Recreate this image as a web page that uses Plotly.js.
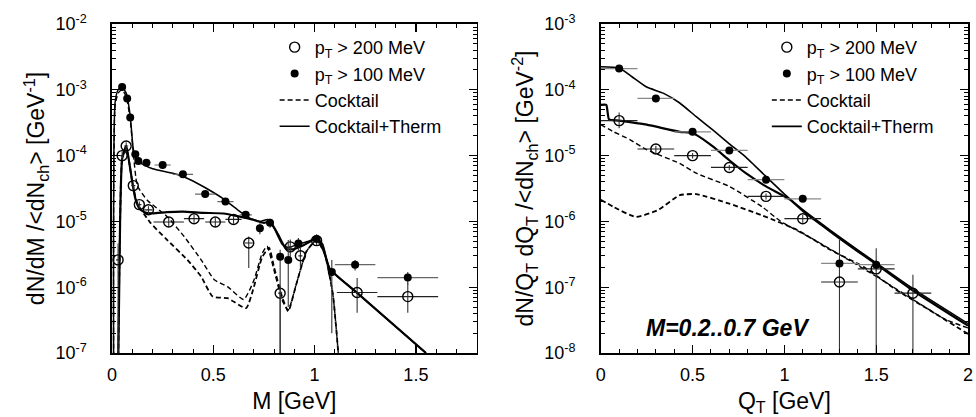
<!DOCTYPE html>
<html>
<head>
<meta charset="utf-8">
<script src="https://cdn.plot.ly/plotly-3.0.1.min.js"></script>
<style>html,body{margin:0;padding:0;background:#fff;}#chart{width:976px;height:417px;}</style>
</head>
<body>
<div id="chart"></div>
<script>
// ---------------- Left panel: dN/dM vs M ----------------
const massOpenX = [0.03, 0.05, 0.07, 0.105, 0.135, 0.18, 0.28, 0.405, 0.51, 0.6, 0.675, 0.83, 0.88, 0.93, 1.01, 1.21, 1.46];
const massOpenY = [2.6e-6, 1.0e-4, 1.4e-4, 3.5e-5, 1.8e-5, 1.5e-5, 9.8e-6, 1.1e-5, 9.8e-6, 1.07e-5, 4.7e-6, 8.1e-7, 4.1e-6, 3.0e-6, 5.1e-6, 8.3e-7, 7.2e-7];
const massOpenXErr = [0.01, 0.01, 0.01, 0.01, 0.01, 0.02, 0.075, 0.05, 0.05, 0.04, 0.02, 0.01, 0.01, 0.01, 0.01, 0.1, 0.15];
const massOpenYErrPlus = [2.0e-6, 1.5e-5, 2e-5, 4e-6, 2e-6, 2e-6, 1.5e-6, 1.5e-6, 1.5e-6, 1.5e-6, 1.2e-6, 2.5e-7, 1.2e-6, 1.0e-6, 8e-7, 5.5e-7, 4.3e-7];
const massOpenYErrMinus = [2.55e-6, 1.5e-5, 2e-5, 4e-6, 2e-6, 2e-6, 1.5e-6, 1.5e-6, 1.5e-6, 1.5e-6, 2.75e-6, 8.0e-7, 1.2e-6, 1.0e-6, 8e-7, 4.2e-7, 3.1e-7];

const massFullX = [0.05, 0.075, 0.09, 0.115, 0.13, 0.17, 0.25, 0.35, 0.46, 0.56, 0.66, 0.73, 0.78, 0.83, 0.87, 0.92, 1.01, 1.085, 1.2, 1.46];
const massFullY = [1.1e-3, 7.4e-4, 3.8e-4, 1.05e-4, 8.3e-5, 7.8e-5, 7.2e-5, 5.2e-5, 2.6e-5, 2.0e-5, 1.26e-5, 7.9e-6, 9.5e-6, 2.9e-6, 2.6e-6, 4.6e-6, 5.4e-6, 1.7e-6, 2.2e-6, 1.4e-6];
const massFullXErr = [0.01, 0.01, 0.01, 0.01, 0.01, 0.02, 0.04, 0.05, 0.05, 0.04, 0.03, 0.01, 0.01, 0.01, 0.01, 0.01, 0.01, 0.01, 0.1, 0.15];
const massFullYErrPlus = [5e-5, 4e-5, 2e-5, 5e-6, 4e-6, 4e-6, 3e-6, 2.5e-6, 1.5e-6, 1.2e-6, 1e-6, 1.5e-6, 1.5e-6, 8e-7, 2.6e-6, 1e-6, 1e-6, 9e-7, 4e-7, 3e-7];
const massFullYErrMinus = [5e-5, 4e-5, 2e-5, 5e-6, 4e-6, 4e-6, 3e-6, 2.5e-6, 1.5e-6, 1.2e-6, 1e-6, 1.5e-6, 1.5e-6, 2.89e-6, 2.1e-6, 1e-6, 1e-6, 1.5e-6, 4e-7, 3e-7];

// model curves (pT > 100 MeV = thin, pT > 200 MeV = thick)
const massThermLoX = [0.008, 0.015, 0.03, 0.05, 0.07, 0.09, 0.105, 0.12, 0.15, 0.2, 0.3, 0.35, 0.42, 0.48, 0.55, 0.62, 0.68, 0.73, 0.77, 0.8, 0.84, 0.87, 0.92, 0.97, 1.01, 1.04, 1.075, 1.2, 1.55];
const massThermLoY = [5e-8, 6.3e-4, 1.0e-3, 1.1e-3, 8.9e-4, 4.0e-4, 1.26e-4, 8.5e-5, 7.4e-5, 6.3e-5, 5.4e-5, 4.8e-5, 3.8e-5, 3.0e-5, 2.2e-5, 1.5e-5, 1.12e-5, 1.0e-5, 1.07e-5, 7.9e-6, 4.5e-6, 4.0e-6, 4.5e-6, 5.0e-6, 5.6e-6, 4.5e-6, 1.9e-6, 8.7e-7, 1.0e-7];
const massThermHiX = [0.03, 0.04, 0.05, 0.07, 0.085, 0.1, 0.115, 0.135, 0.16, 0.2, 0.27, 0.35, 0.45, 0.55, 0.62, 0.7, 0.75, 0.78, 0.82, 0.86, 0.9, 0.95, 1.01, 1.04, 1.075, 1.2, 1.55];
const massThermHiY = [5e-8, 1.0e-5, 8.9e-5, 1.41e-4, 7.9e-5, 4.0e-5, 2.24e-5, 1.58e-5, 1.38e-5, 1.32e-5, 1.38e-5, 1.41e-5, 1.35e-5, 1.32e-5, 1.2e-5, 1.05e-5, 9.5e-6, 1.0e-5, 6.3e-6, 3.8e-6, 3.8e-6, 4.4e-6, 5.5e-6, 4.0e-6, 1.9e-6, 8.7e-7, 1.0e-7];
const massCocktailLoX = [0.008, 0.015, 0.03, 0.05, 0.07, 0.09, 0.105, 0.125, 0.174, 0.27, 0.356, 0.44, 0.505, 0.57, 0.65, 0.7, 0.74, 0.765, 0.8, 0.84, 0.87, 0.91, 0.96, 1.01, 1.05, 1.09, 1.125];
const massCocktailLoY = [5e-8, 5.6e-4, 8.9e-4, 1.0e-3, 7.9e-4, 3.5e-4, 1.12e-4, 3.5e-5, 2.1e-5, 1.2e-5, 5.9e-6, 2.6e-6, 1.3e-6, 1.02e-6, 6.5e-7, 1.26e-6, 3.2e-6, 4.2e-6, 1.8e-6, 6.3e-7, 4.5e-7, 1.12e-6, 3.5e-6, 5.2e-6, 3.2e-6, 7.9e-7, 5e-8];
const massCocktailHiX = [0.03, 0.04, 0.05, 0.07, 0.085, 0.1, 0.124, 0.19, 0.273, 0.372, 0.44, 0.497, 0.571, 0.662, 0.7, 0.74, 0.775, 0.8, 0.84, 0.87, 0.91, 0.96, 1.01, 1.05, 1.09, 1.125];
const massCocktailHiY = [5e-8, 1.0e-5, 8.9e-5, 1.35e-4, 7.9e-5, 4.0e-5, 1.9e-5, 9.5e-6, 5.2e-6, 2.6e-6, 1.45e-6, 7.2e-7, 6.8e-7, 4.8e-7, 1.0e-6, 2.8e-6, 4.0e-6, 2.0e-6, 7.1e-7, 4.3e-7, 1.12e-6, 3.5e-6, 5.2e-6, 3.2e-6, 7.9e-7, 5e-8];

// ---------------- Right panel: dN/QT dQT vs QT ----------------
const qtOpenX = [0.1, 0.3, 0.5, 0.7, 0.9, 1.1, 1.3, 1.5, 1.7];
const qtOpenY = [3.4e-5, 1.26e-5, 1.0e-5, 6.6e-6, 2.4e-6, 1.1e-6, 1.2e-7, 1.9e-7, 8.1e-8];
const qtOpenXErr = [0.1, 0.1, 0.1, 0.1, 0.1, 0.1, 0.1, 0.1, 0.1];
const qtOpenYErrPlus = [1.1e-5, 1.5e-6, 1e-6, 6e-7, 2.5e-7, 1.5e-7, 4e-7, 2e-7, 7.4e-8];
const qtOpenYErrMinus = [8e-6, 2e-6, 1e-6, 6e-7, 2.5e-7, 1.5e-7, 1.19e-7, 1.89e-7, 8.05e-8];

const qtFullX = [0.1, 0.3, 0.5, 0.7, 0.9, 1.1, 1.3, 1.5];
const qtFullY = [2.1e-4, 7.4e-5, 2.3e-5, 1.2e-5, 4.3e-6, 2.2e-6, 2.3e-7, 2.2e-7];
const qtFullXErr = [0.1, 0.1, 0.1, 0.1, 0.1, 0.1, 0.1, 0.1];
const qtFullYErr = [1.5e-5, 6e-6, 2e-6, 1e-6, 4e-7, 2e-7, 4e-8, 4e-8];

const qtThermLoX = [0, 0.1, 0.17, 0.25, 0.34, 0.43, 0.52, 0.61, 0.7, 0.79, 0.9, 1.0, 1.1, 1.2, 1.3, 1.5, 1.7, 2.0];
const qtThermLoY = [2.24e-4, 2.14e-4, 1.58e-4, 1.1e-4, 8.9e-5, 6.3e-5, 3.9e-5, 2.45e-5, 1.51e-5, 9.5e-6, 4.8e-6, 2.6e-6, 1.51e-6, 9.3e-7, 5.8e-7, 2.34e-7, 9.5e-8, 2.8e-8];
const qtThermHiX = [0, 0.03, 0.045, 0.1, 0.25, 0.43, 0.5, 0.61, 0.7, 0.79, 0.9, 1.03, 1.1, 1.2, 1.3, 1.5, 1.7, 2.0];
const qtThermHiY = [5.9e-5, 5.9e-5, 3.55e-5, 3.4e-5, 2.95e-5, 2.3e-5, 2.2e-5, 1.38e-5, 8.5e-6, 5.4e-6, 3.4e-6, 2.14e-6, 1.45e-6, 8.9e-7, 5.5e-7, 2.24e-7, 8.9e-8, 2.6e-8];
const qtCocktailLoX = [0, 0.07, 0.16, 0.25, 0.43, 0.52, 0.70, 0.88, 0.98, 1.16, 1.34, 1.52, 1.70, 1.88, 2.0];
const qtCocktailLoY = [2.95e-5, 2.3e-5, 1.74e-5, 1.23e-5, 7.6e-6, 5.4e-6, 3.4e-6, 1.66e-6, 1.0e-6, 5.3e-7, 2.7e-7, 1.35e-7, 6.5e-8, 3.2e-8, 2.4e-8];
const qtCocktailHiX = [0, 0.07, 0.19, 0.31, 0.43, 0.52, 0.7, 0.88, 1.07, 1.25, 1.43, 1.61, 1.79, 2.0];
const qtCocktailHiY = [2.14e-6, 1.66e-6, 1.17e-6, 1.48e-6, 2.5e-6, 2.6e-6, 1.86e-6, 1.23e-6, 7.4e-7, 3.7e-7, 2.04e-7, 9.1e-8, 4.5e-8, 1.95e-8];

// ---------------- tick labels ----------------
const massYTicks = [1e-7, 1e-6, 1e-5, 1e-4, 1e-3, 1e-2];
const massYTickText = ['10<sup>-7</sup>', '10<sup>-6</sup>', '10<sup>-5</sup>', '10<sup>-4</sup>', '10<sup>-3</sup>', '10<sup>-2</sup>'];
const qtYTicks = [1e-8, 1e-7, 1e-6, 1e-5, 1e-4, 1e-3];
const qtYTickText = ['10<sup>-8</sup>', '10<sup>-7</sup>', '10<sup>-6</sup>', '10<sup>-5</sup>', '10<sup>-4</sup>', '10<sup>-3</sup>'];
const seriesNames = ['p<sub>T</sub> &gt; 200 MeV', 'p<sub>T</sub> &gt; 100 MeV', 'Cocktail', 'Cocktail+Therm'];

function minorLogTicks(lo, hi) {
  const v = [];
  for (let e = lo; e < hi; e++) for (let m = 2; m <= 9; m++) v.push(m * Math.pow(10, e));
  return v;
}

const FONT = 'Liberation Sans, Arial, Helvetica, sans-serif';
const dashStyle = '5px,3px';

function lineTrace(x, y, xa, ya, width, dash, name, show, leg, rank) {
  return {type: 'scatter', mode: 'lines', x: x, y: y, xaxis: xa, yaxis: ya,
    line: {color: 'black', width: width, dash: dash, shape: 'spline', smoothing: 0.5},
    name: name, showlegend: show, legend: leg, legendrank: rank, hoverinfo: 'skip'};
}
function pointTrace(x, y, xe, ep, em, xa, ya, open, name, show, leg, rank, xeColor) {
  return {type: 'scatter', mode: 'markers', x: x, y: y, xaxis: xa, yaxis: ya,
    marker: open ? {symbol: 'circle-open', size: 10, color: 'black', line: {width: 1.4, color: 'black'}}
                 : {symbol: 'circle', size: 8, color: 'black'},
    error_x: {type: 'data', array: xe, symmetric: true, thickness: 1.2, width: 0, color: xeColor},
    error_y: {type: 'data', array: ep, arrayminus: em, symmetric: false, thickness: 1.1, width: 0, color: '#333'},
    name: name, showlegend: show, legend: leg, legendrank: rank};
}

const traces = [
  lineTrace(massCocktailLoX, massCocktailLoY, 'x', 'y', 1.4, dashStyle, seriesNames[2], true, 'legend', 3),
  lineTrace(massCocktailHiX, massCocktailHiY, 'x', 'y', 1.8, dashStyle, seriesNames[2], false, 'legend', 3),
  lineTrace(massThermLoX, massThermLoY, 'x', 'y', 1.5, 'solid', seriesNames[3], true, 'legend', 4),
  lineTrace(massThermHiX, massThermHiY, 'x', 'y', 2.2, 'solid', seriesNames[3], false, 'legend', 4),
  pointTrace(massOpenX, massOpenY, massOpenXErr, massOpenYErrPlus, massOpenYErrMinus, 'x', 'y', true, seriesNames[0], true, 'legend', 1, '#222'),
  pointTrace(massFullX, massFullY, massFullXErr, massFullYErrPlus, massFullYErrMinus, 'x', 'y', false, seriesNames[1], true, 'legend', 2, '#666'),

  lineTrace(qtCocktailLoX, qtCocktailLoY, 'x2', 'y2', 1.4, dashStyle, seriesNames[2], true, 'legend2', 3),
  lineTrace(qtCocktailHiX, qtCocktailHiY, 'x2', 'y2', 1.8, dashStyle, seriesNames[2], false, 'legend2', 3),
  lineTrace(qtThermLoX, qtThermLoY, 'x2', 'y2', 1.6, 'solid', seriesNames[3], true, 'legend2', 4),
  lineTrace(qtThermHiX, qtThermHiY, 'x2', 'y2', 2.2, 'solid', seriesNames[3], false, 'legend2', 4),
  pointTrace(qtOpenX, qtOpenY, qtOpenXErr, qtOpenYErrPlus, qtOpenYErrMinus, 'x2', 'y2', true, seriesNames[0], true, 'legend2', 1, '#222'),
  pointTrace(qtFullX, qtFullY, qtFullXErr, qtFullYErr, qtFullYErr, 'x2', 'y2', false, seriesNames[1], true, 'legend2', 2, '#888')
];

const axisBase = {
  showline: true, linecolor: 'black', linewidth: 1.6, mirror: 'ticks',
  ticks: 'inside', ticklen: 8, tickwidth: 1.3, tickcolor: 'black',
  showgrid: false, zeroline: false, fixedrange: true,
  tickfont: {family: FONT, size: 18, color: 'black'}
};
const minorLin = {ticks: 'inside', ticklen: 4, tickwidth: 1, tickcolor: 'black', dtick: 0.1, tick0: 0, showgrid: false};

const layout = {
  width: 976, height: 417,
  margin: {l: 112, r: 8, t: 24, b: 64},
  paper_bgcolor: 'white', plot_bgcolor: 'white',
  font: {family: FONT, color: 'black', size: 18},
  xaxis: Object.assign({}, axisBase, {
    domain: [0, 0.426], range: [0, 1.8], anchor: 'y',
    tickmode: 'linear', tick0: 0, dtick: 0.5, minor: minorLin,
    ticklabelstandoff: 5,
    title: {text: 'M [GeV]', font: {family: FONT, size: 23}, standoff: 8}
  }),
  yaxis: Object.assign({}, axisBase, {
    type: 'log', range: [-7, -2], anchor: 'x',
    tickmode: 'array', tickvals: massYTicks, ticktext: massYTickText,
    minor: {ticks: 'inside', ticklen: 4, tickwidth: 1, tickcolor: 'black', tickmode: 'array', tickvals: minorLogTicks(-7, -2), showgrid: false},
    ticklabelstandoff: 20,
    title: {text: 'dN/dM /&lt;dN<sub>ch</sub>&gt; [GeV<sup>-1</sup>]', font: {family: FONT, size: 23}, standoff: 4}
  }),
  xaxis2: Object.assign({}, axisBase, {
    domain: [0.571, 1], range: [0, 2], anchor: 'y2',
    tickmode: 'linear', tick0: 0, dtick: 0.5, minor: minorLin,
    ticklabelstandoff: 5,
    title: {text: 'Q<sub>T</sub> [GeV]', font: {family: FONT, size: 23}, standoff: 8}
  }),
  yaxis2: Object.assign({}, axisBase, {
    type: 'log', range: [-8, -3], anchor: 'x2',
    tickmode: 'array', tickvals: qtYTicks, ticktext: qtYTickText,
    minor: {ticks: 'inside', ticklen: 4, tickwidth: 1, tickcolor: 'black', tickmode: 'array', tickvals: minorLogTicks(-8, -3), showgrid: false},
    ticklabelstandoff: 20,
    title: {text: 'dN/Q<sub>T</sub> dQ<sub>T</sub> /&lt;dN<sub>ch</sub>&gt; [GeV<sup>-2</sup>]', font: {family: FONT, size: 23}, standoff: 4}
  }),
  legend: {x: 0.19, xanchor: 'left', y: 0.985, yanchor: 'top', bgcolor: 'rgba(0,0,0,0)',
    font: {family: FONT, size: 18, color: 'black'}, tracegroupgap: 0, traceorder: 'normal'},
  legend2: {x: 0.765, xanchor: 'left', y: 0.985, yanchor: 'top', bgcolor: 'rgba(0,0,0,0)',
    font: {family: FONT, size: 18, color: 'black'}, tracegroupgap: 0, traceorder: 'normal'},
  annotations: [{
    text: '<b><i>M=0.2..0.7 GeV</i></b>', xref: 'paper', yref: 'paper',
    x: 0.7196, y: 0.076, xanchor: 'center', yanchor: 'middle', showarrow: false,
    font: {family: FONT, size: 23, color: 'black'}
  }]
};

Plotly.newPlot('chart', traces, layout, {displayModeBar: false, staticPlot: true});
</script>
</body>
</html>
